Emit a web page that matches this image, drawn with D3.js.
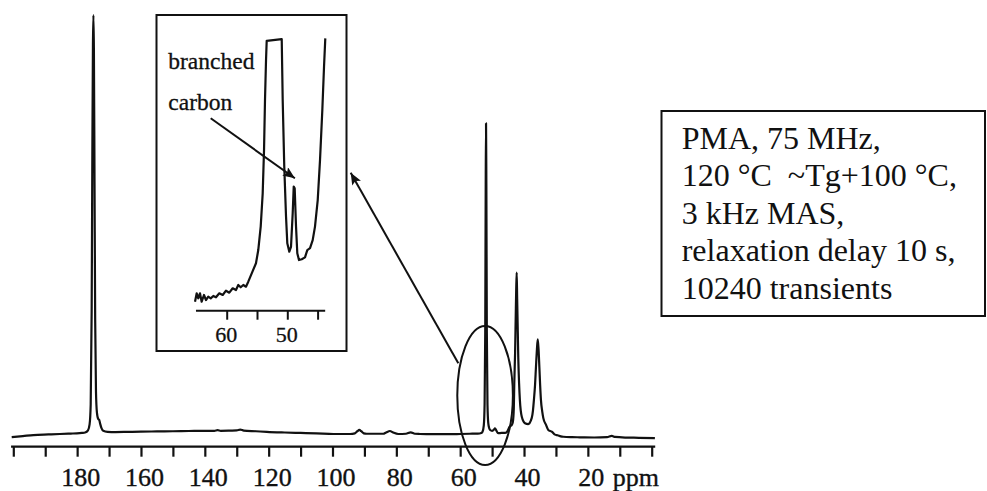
<!DOCTYPE html>
<html>
<head>
<meta charset="utf-8">
<script src="https://cdn.jsdelivr.net/npm/d3@7/dist/d3.min.js"></script>
<style>
  html, body { margin: 0; padding: 0; background: #fff; }
  svg { display: block; }
  text { font-family: "Liberation Serif", "Times New Roman", serif; fill: #111; }
</style>
</head>
<body>
<svg id="chart" width="987" height="491"></svg>
<script>
// 13C MAS spectrum of PMA: chemical shift (ppm) and relative intensity
const mainPpm = [
  200.5, 197, 193.7, 189, 185.4, 182, 180.1, 178.5, 177.5, 176.6, 176.1, 175.75, 175.45, 175.25, 175.05,
  174.9, 174.75, 174.55, 174.35, 174.1, 173.8, 173.4, 173.1, 172.8, 172.4, 171.8, 170.5, 168, 164, 160,
  155, 150, 145, 140, 137, 136, 135, 132, 130, 128.9, 127.8, 124, 120.6, 115, 110, 105, 99.7, 94.5, 93,
  92.2, 91.6, 91, 90.2, 89.3, 84.1, 83.2, 82.0, 81, 79.4, 77, 75.5, 74.2, 72.6, 68.5, 64, 60, 57, 54.5,
  53.4, 53.0, 52.6, 52.35, 52.15, 52.0, 51.9, 51.8, 51.65, 51.45, 51.2, 50.9, 50.6, 50.0, 49.4, 49.1,
  48.7, 48.1, 47.0, 46.0, 45.3, 44.5, 43.9, 43.5, 43.2, 43.05, 42.8, 42.6, 42.45, 42.3, 42.15, 41.95,
  41.8, 41.55, 41.3, 40.7, 39.7, 38.7, 37.6, 37.2, 36.9, 36.55, 36.25, 35.95, 35.7, 35.45, 35.2, 34.95,
  34.7, 34.3, 33.95, 33.1, 32.4, 31.3, 30.3, 29.5, 28.5, 27.7, 25, 22.5, 18, 14, 12.5, 11.5, 8, 4, -1
];
const mainIntensity = [
  0.2, 0.45, 0.7, 0.85, 0.95, 1.05, 1.1, 1.2, 1.3, 1.8, 3.2, 8, 30, 65, 93,
  100, 92, 60, 28, 11, 6, 4.5, 4.3, 3.4, 2.4, 1.7, 1.45, 1.4, 1.45, 1.5,
  1.55, 1.6, 1.65, 1.7, 1.7, 1.85, 1.7, 1.75, 1.8, 2.0, 1.75, 1.6, 1.45, 1.3, 1.2, 1.1, 0.95, 0.95, 1.1,
  1.6, 1.95, 1.6, 1.1, 1.0, 1.0, 1.3, 1.65, 1.3, 0.95, 1.0, 1.35, 1.0, 0.95, 0.9, 0.9, 0.95, 1.0, 1.05,
  1.2, 1.5, 3, 8, 25, 60, 74.4, 60, 25, 8, 3.5, 2.3, 1.9, 1.7, 2.0, 2.3,
  1.8, 1.15, 1.2, 1.2, 1.5, 2.7, 3.0, 3.8, 7, 12.9, 20, 28.7, 35, 39.1, 33, 25,
  19, 13, 9, 5, 3.5, 3.3, 4.7, 6.5, 9, 12.5, 16.9, 21, 23.3, 21, 16.9, 12.5,
  9, 6.3, 4.7, 3.1, 1.9, 1.5, 0.8, 0.65, 0.4, 0.3, 0.2, 0.17, 0.12, 0.2, 0.5, 0.25, 0.1, 0.05, -0.05
];

// Expanded view of the 44-65 ppm region (vertical scale clipped at 100)
const insetPpm = [
  65.23, 64.95, 64.69, 64.41, 64.13, 63.75, 63.42, 63.04, 62.64, 62.21, 61.77, 61.22, 60.66, 60.12,
  59.57, 59.01, 58.47, 58.09, 57.69, 57.26, 56.82, 56.44, 55.87, 55.17, 54.79, 54.39, 54.06, 53.84,
  53.68, 53.51, 53.40, 50.92, 50.76, 50.50, 50.21, 50.0, 49.67, 49.39, 49.11, 48.94, 48.78, 48.56,
  48.35, 48.07, 47.62, 47.08, 46.70, 46.25, 45.81, 45.43, 44.98, 44.60, 44.22, 43.94, 43.73
];
const insetIntensity = [
  3.07, 6.19, 4.33, 6.19, 3.07, 5.56, 3.70, 4.93, 4.33, 5.19, 4.70, 6.19, 5.56, 7.15,
  6.41, 8.04, 7.41, 9.26, 8.41, 9.26, 8.63, 10.48, 13.59, 17.3, 22.2, 30.9, 43.2, 59.3,
  77.8, 92.6, 99.7, 100.3, 77.8, 53.1, 34.6, 24.7, 21.6, 23.4, 35.8, 45.7, 45.1, 30.9,
  21.0, 18.5, 18.8, 19.5, 22.2, 22.9, 25.9, 30.9, 40.7, 55.6, 74.1, 90.1, 100.6
];

// Axis ticks and labels
const mainTicks = d3.range(200, -1, -10);
const mainLabels = [180, 160, 140, 120, 100, 80, 60, 40, 20];
const insetTicks = [60, 55, 50, 45];
const insetLabels = [60, 50];

// Acquisition notes
const noteLines = [
  "PMA, 75 MHz,",
  "120 °C  ~Tg+100 °C,",
  "3 kHz MAS,",
  "relaxation delay 10 s,",
  "10240 transients"
];
const insetNote = ["branched", "carbon"];

const ink = "#111";
const serif = '"Liberation Serif", "Times New Roman", serif';
const svg = d3.select("#chart");

const defs = svg.append("defs");
defs.append("marker")
  .attr("id", "head")
  .attr("markerUnits", "userSpaceOnUse")
  .attr("viewBox", "0 0 12 10")
  .attr("refX", 12).attr("refY", 5)
  .attr("markerWidth", 13).attr("markerHeight", 10)
  .attr("orient", "auto")
  .append("path")
  .attr("d", "M0,0 L12,5 L0,10 L2.5,5 Z")
  .attr("fill", ink);

// ---- main spectrum ----
const x = d3.scaleLinear().domain([200, 0]).range([13.3, 651.7]);
const y = d3.scaleLinear().domain([0, 100]).range([438, 15]);

const mainData = mainPpm.map((p, i) => [p, mainIntensity[i]]);
svg.append("path")
  .datum(mainData)
  .attr("fill", "none")
  .attr("stroke", ink)
  .attr("stroke-width", 2.2)
  .attr("stroke-linejoin", "round")
  .attr("d", d3.line().x(d => x(d[0])).y(d => y(d[1])).curve(d3.curveMonotoneX));

const axisY = 446.7;
const gx = svg.append("g").attr("transform", `translate(0,${axisY})`);
gx.call(d3.axisBottom(x)
  .tickValues(mainTicks)
  .tickSize(10)
  .tickFormat(d => mainLabels.includes(d) ? d : ""));
gx.select(".domain").remove();
gx.selectAll(".tick line").attr("stroke", ink).attr("stroke-width", 2.2);
gx.selectAll(".tick text")
  .attr("y", 39).attr("dy", 0).attr("dx", 3)
  .attr("fill", ink)
  .attr("stroke", ink).attr("stroke-width", 0.35)
  .style("font-family", serif)
  .style("font-size", "26px");
gx.append("line")
  .attr("x1", x(200.7)).attr("x2", x(-1.1))
  .attr("y1", 0).attr("y2", 0)
  .attr("stroke", ink).attr("stroke-width", 2.2);
svg.append("text")
  .attr("x", x(20) + 25).attr("y", axisY + 39)
  .attr("stroke", ink).attr("stroke-width", 0.35)
  .style("font-size", "26px")
  .text("ppm");

// ellipse around the 52 ppm region and pointer to the expansion
svg.append("ellipse")
  .attr("cx", x(52.2)).attr("cy", 395.5)
  .attr("rx", 27.8).attr("ry", 69.5)
  .attr("fill", "none").attr("stroke", ink).attr("stroke-width", 2);
svg.append("line")
  .attr("x1", 458.3).attr("y1", 363.3)
  .attr("x2", 350.7).attr("y2", 172.7)
  .attr("stroke", ink).attr("stroke-width", 2)
  .attr("marker-end", "url(#head)");

// ---- inset ----
svg.append("rect")
  .attr("x", 156.5).attr("y", 15).attr("width", 190).attr("height", 336)
  .attr("fill", "#fff").attr("stroke", ink).attr("stroke-width", 2);

const xi = d3.scaleLinear().domain([60, 50]).range([226.7, 287.3]);
const yi = d3.scaleLinear().domain([0, 100]).range([310, 40]);

const insetData = insetPpm.map((p, i) => [p, insetIntensity[i]]);
svg.append("path")
  .datum(insetData)
  .attr("fill", "none")
  .attr("stroke", ink)
  .attr("stroke-width", 2.2)
  .attr("stroke-linejoin", "round")
  .attr("d", d3.line().x(d => xi(d[0])).y(d => yi(d[1])));

const insetAxisY = 310.7;
const gi = svg.append("g").attr("transform", `translate(0,${insetAxisY})`);
gi.call(d3.axisBottom(xi)
  .tickValues(insetTicks)
  .tickSize(9)
  .tickFormat(d => insetLabels.includes(d) ? d : ""));
gi.select(".domain").remove();
gi.selectAll(".tick line").attr("stroke", ink).attr("stroke-width", 2);
gi.selectAll(".tick text")
  .attr("y", 31).attr("dy", 0).attr("dx", -1)
  .attr("fill", ink)
  .attr("stroke", ink).attr("stroke-width", 0.3)
  .style("font-family", serif)
  .style("font-size", "22px");
gi.append("line")
  .attr("x1", xi(65.07)).attr("x2", xi(43.75))
  .attr("y1", 0).attr("y2", 0)
  .attr("stroke", ink).attr("stroke-width", 2);

svg.selectAll(".inset-note")
  .data(insetNote)
  .join("text")
  .attr("class", "inset-note")
  .attr("x", 168.3)
  .attr("y", (d, i) => 69.3 + i * 40.8)
  .attr("stroke", ink).attr("stroke-width", 0.3)
  .style("font-size", "23.5px")
  .text(d => d);

svg.append("line")
  .attr("x1", 210.7).attr("y1", 118.3)
  .attr("x2", xi(48.75)).attr("y2", 178.3)
  .attr("stroke", ink).attr("stroke-width", 2)
  .attr("marker-end", "url(#head)");

// ---- acquisition box ----
svg.append("rect")
  .attr("x", 661.5).attr("y", 111).attr("width", 323.5).attr("height", 205)
  .attr("fill", "none").attr("stroke", ink).attr("stroke-width", 2);

svg.selectAll(".note")
  .data(noteLines)
  .join("text")
  .attr("class", "note")
  .attr("x", 681.7)
  .attr("y", (d, i) => 149 + i * 37.4)
  .style("font-size", "32px")
  .style("white-space", "pre")
  .attr("xml:space", "preserve")
  .text(d => d);
</script>
</body>
</html>
